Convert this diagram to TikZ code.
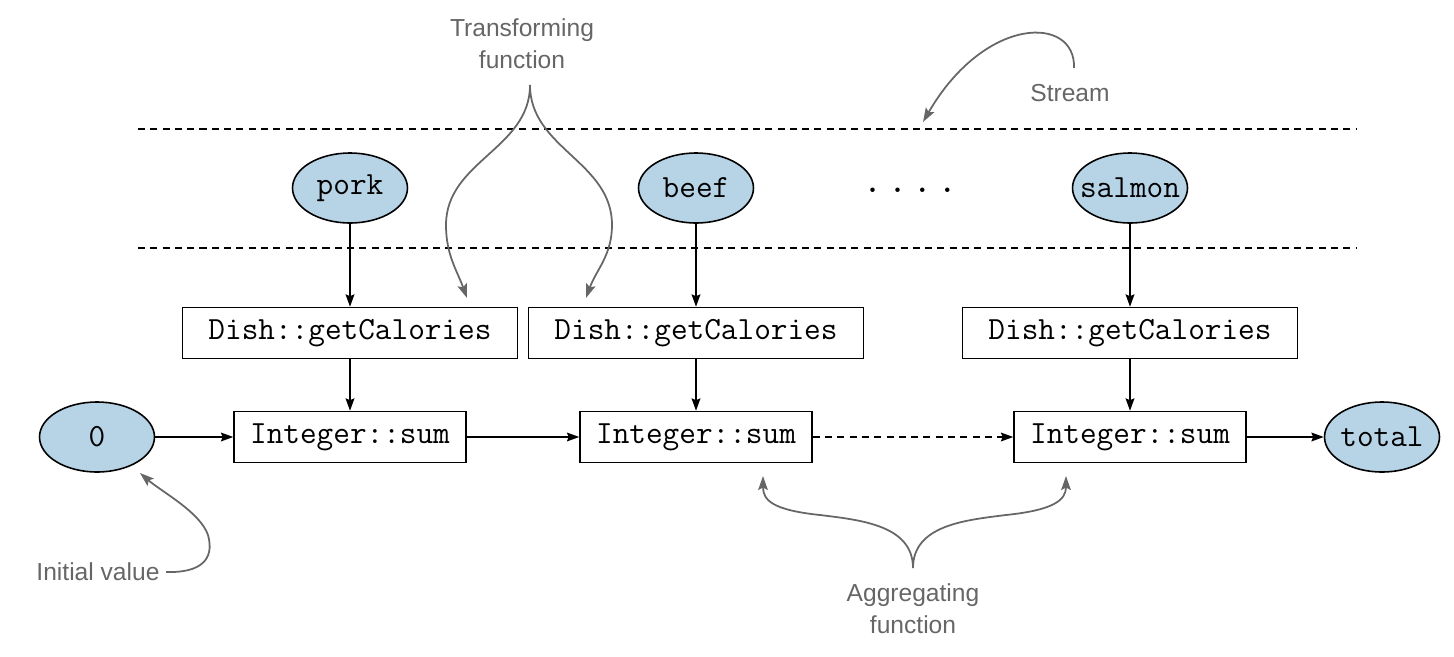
\documentclass[tikz,border=0pt]{standalone}
\usepackage{fontspec}
\setmainfont{Liberation Sans}
\usetikzlibrary{shapes,shapes.geometric,arrows.meta}
\definecolor{itemblue}{HTML}{B7D3E6}
\definecolor{notegray}{HTML}{666666}

\begin{document}
\begin{tikzpicture}[x=0.02cm,y=-0.02cm,line width=0.9pt,-{Stealth[length=7pt,width=5pt,inset=1pt]}]
   \useasboundingbox (0,0) rectangle (1454,656);
   \tikzstyle{item}=[ellipse, draw=black, fill=itemblue, minimum width=2.3cm, minimum height=1.4cm, inner sep=0pt, font=\fontsize{18.4}{21}\selectfont\ttfamily]
   \tikzstyle{op}=[rectangle, draw=black, minimum height=1.02cm, inner sep=0pt, font=\fontsize{18.4}{21}\selectfont\ttfamily]
   \tikzstyle{note}=[text=notegray, align=center, font=\fontsize{14}{18}\selectfont]
   \tikzstyle{pointer}=[draw=notegray, line width=1pt, -{Stealth[length=8pt,width=5.5pt,inset=1.5pt]}]
   % stream borders
   \draw[-, line width=0.8pt, dash pattern=on 4pt off 3pt] (138,129) -- (1356,129);
   \draw[-, line width=0.8pt, dash pattern=on 4pt off 3pt] (138,248) -- (1356,248);
   \foreach \i/\x/\dish in {1/350/pork,2/696/beef,3/1130/salmon} {
       \node[item] (d\i) at (\x,188) {\makebox[0pt]{\dish}};
       \node[op, minimum width=6.7cm] (g\i) at (\x,333) {Dish::getCalories};
       \node[op, minimum width=4.64cm] (s\i) at (\x,437) {Integer::sum};
       \path (d\i) edge (g\i);
       \path (g\i) edge (s\i);
   }
   \node[anchor=base, font=\fontsize{18.4}{21}\selectfont\ttfamily\bfseries] (more) at (910,192) {.\kern0.16cm.\kern0.16cm.\kern0.16cm.};
   \node[item] (zero) at (97,437) {\makebox[0pt]{0}};
   \node[item] (total) at (1382,437) {\makebox[0pt]{total}};
   \path (zero) edge (s1);
   \path (s1) edge (s2);
   \path (s2) edge[dash pattern=on 4pt off 3pt] (s3);
   \path (s3) edge (total);
   % annotations
   \node[note] (transform) at (522,44) {Transforming\\function};
   \coordinate (tsplit) at (530,85);
   \coordinate (tleft) at (467,298);
   \coordinate (tright) at (586,298);
   \draw[pointer] (tsplit) to[out=-90,in=90] (446,225) to[out=-90,in=110] (tleft);
   \draw[pointer] (tsplit) to[out=-90,in=90] (612,225) to[out=-90,in=70] (tright);
   \node[note] (stream) at (1070,93) {Stream};
   \coordinate (sstart) at (1074,68);
   \coordinate (send) at (923,122);
   \draw[pointer] (sstart) .. controls (1076,15) and (985,15) .. (send);
   \node[note] (initial) at (98,572) {Initial value};
   \coordinate (iend) at (140,473);
   \draw[pointer] (initial.east) .. controls (200,573) and (215,560) .. (208,535) .. controls (200,512) and (162,492) .. (iend);
   \node[note] (aggregate) at (913,609) {Aggregating\\function};
   \coordinate (asplit) at (913,568);
   \coordinate (aleft) at (763,476);
   \coordinate (aright) at (1066,476);
   \draw[pointer] (asplit) .. controls (913,525) and (860,520) .. (820,515) .. controls (772,510) and (763,500) .. (aleft);
   \draw[pointer] (asplit) .. controls (913,525) and (966,520) .. (1006,515) .. controls (1054,510) and (1066,500) .. (aright);
\end{tikzpicture}
\end{document}
